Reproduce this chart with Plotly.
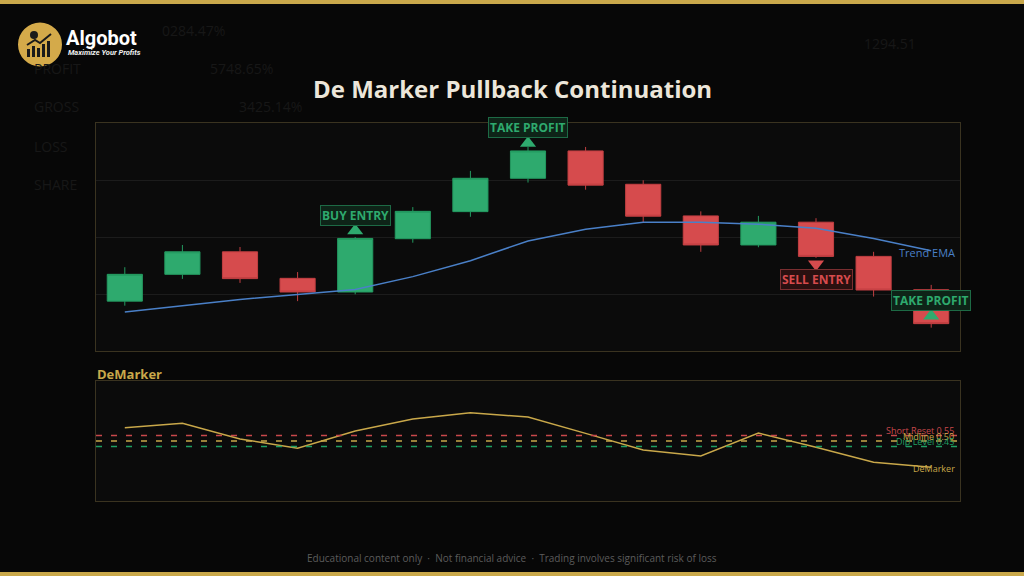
import plotly.graph_objects as go

# ---------------- data ----------------
bars = list(range(15))
open_ = [97.75, 98.69, 99.48, 98.55, 98.07, 99.94, 100.89, 102.06, 103.02, 101.85, 100.74, 99.72, 100.52, 99.32, 98.15]
high = [98.94, 99.72, 99.65, 98.77, 100.00, 101.05, 102.32, 103.16, 103.16, 101.99, 100.90, 100.74, 100.66, 99.48, 98.32]
low = [97.59, 98.53, 98.39, 97.75, 97.99, 99.80, 100.71, 101.91, 101.66, 100.52, 99.48, 99.64, 99.27, 97.91, 96.82]
close = [98.69, 99.48, 98.54, 98.07, 99.95, 100.90, 102.06, 103.02, 101.82, 100.73, 99.72, 100.52, 99.32, 98.14, 96.96]
trend_ema = [97.37, 97.60, 97.81, 97.98, 98.16, 98.61, 99.17, 99.86, 100.27, 100.52, 100.52, 100.45, 100.31, 99.95, 99.52]
demarker = [0.622, 0.662, 0.518, 0.433, 0.592, 0.702, 0.760, 0.720, 0.570, 0.417, 0.362, 0.573, 0.442, 0.305, 0.259]

signal_idx = [4, 7, 12, 14]
signal_text = ["BUY ENTRY", "TAKE PROFIT", "SELL ENTRY", "TAKE PROFIT"]
signal_dir = ["up", "up", "down", "up"]

level_values = [0.55, 0.50, 0.45]
level_names = ["Short Reset 0.55", "Midline 0.50", "Dip Level 0.45"]

# ---------------- styles ----------------
GREEN = "#2eaa6e"
RED = "#d64b4d"
GOLD = "#c9a84a"
BLUE = "#4a80c8"
level_colors = ["#c8484b", GOLD, "#1f9e63"]
FONT = "Open Sans"
W, H = 1024, 576


def px(x):
    return x / W


def py(y):
    return 1 - y / H


fig = go.Figure()

fig.add_trace(go.Candlestick(
    x=bars, open=open_, high=high, low=low, close=close,
    increasing=dict(fillcolor=GREEN, line=dict(color="#239a60", width=1)),
    decreasing=dict(fillcolor=RED, line=dict(color="#c23f42", width=1)),
    whiskerwidth=0, xaxis="x", yaxis="y", showlegend=False, hoverinfo="skip",
))

fig.add_trace(go.Scatter(
    x=bars, y=trend_ema, mode="lines", line=dict(color=BLUE, width=1.5),
    xaxis="x", yaxis="y", showlegend=False, hoverinfo="skip",
))

# signal markers
sig_x = [bars[i] for i in signal_idx]
sig_y = [close[i] + (0.27 if d == "up" else -0.27) for i, d in zip(signal_idx, signal_dir)]
sig_sym = ["triangle-up" if d == "up" else "triangle-down" for d in signal_dir]
sig_col = [GREEN if t != "SELL ENTRY" else RED for t in signal_text]
fig.add_trace(go.Scatter(
    x=sig_x, y=sig_y, mode="markers",
    marker=dict(symbol=sig_sym, size=14, color=sig_col, line=dict(width=0)),
    xaxis="x", yaxis="y", showlegend=False, hoverinfo="skip",
))

fig.add_trace(go.Scatter(
    x=bars, y=demarker, mode="lines", line=dict(color=GOLD, width=1.5),
    xaxis="x2", yaxis="y2", showlegend=False, hoverinfo="skip",
))

annotations = []
for xv, yv, t, d, c in zip(sig_x, sig_y, signal_text, signal_dir, sig_col):
    is_sell = t == "SELL ENTRY"
    annotations.append(dict(
        x=xv, y=yv, xref="x", yref="y", text="<b>%s</b>" % t, showarrow=False,
        yshift=(-15.5 if d == "down" else 15.5),
        font=dict(family=FONT, size=12, color=c),
        bgcolor=("#2a1010" if is_sell else "#0e2418"),
        bordercolor=("#7a2e30" if is_sell else "#1d6a45"),
        borderwidth=1, borderpad=1,
    ))

annotations.append(dict(
    x=1, xref="x domain", xanchor="right", xshift=-3,
    y=trend_ema[-1], yref="y", yanchor="middle", yshift=-2,
    text="Trend EMA", showarrow=False, font=dict(family=FONT, size=11, color=BLUE),
))

shapes = []
for v, name, col in zip(level_values, level_names, level_colors):
    shapes.append(dict(type="line", xref="x2 domain", x0=0, x1=1, yref="y2", y0=v, y1=v,
                       line=dict(color=col, width=1.5, dash="6px,9px")))
    annotations.append(dict(
        x=1, xref="x2 domain", xanchor="right", xshift=-4,
        y=v, yref="y2", yanchor="middle", yshift=5,
        text=name, showarrow=False, font=dict(family=FONT, size=9, color=col),
    ))

annotations.append(dict(
    x=1, xref="x2 domain", xanchor="right", xshift=-3,
    y=demarker[-1], yref="y2", yanchor="middle", yshift=-1.5,
    text="DeMarker", showarrow=False, font=dict(family=FONT, size=9, color=GOLD),
))

# panel title
annotations.append(dict(
    x=px(95), y=py(374), xref="paper", yref="paper", xanchor="left", yanchor="middle",
    text="<b>DeMarker</b>", showarrow=False, font=dict(family=FONT, size=13, color=GOLD),
))

# main title
annotations.append(dict(
    x=0.5, y=py(88), xref="paper", yref="paper", xanchor="center", yanchor="middle",
    text="<b>De Marker Pullback Continuation</b>", showarrow=False,
    font=dict(family=FONT, size=24, color="#ece6da"),
))

# footer
annotations.append(dict(
    x=0.5, y=py(558), xref="paper", yref="paper", xanchor="center", yanchor="middle",
    text="Educational content only  ·  Not financial advice  ·  Trading involves significant risk of loss",
    showarrow=False, font=dict(family=FONT, size=10, color="#5c5c5c"),
))

# faint background texts
bg_texts = [("0284.47%", 160, 30), ("PROFIT", 32, 69), ("5748.65%", 208, 69),
            ("GROSS", 32, 107), ("3425.14%", 237, 107), ("LOSS", 32, 146), ("SHARE", 32, 184),
            ("1294.51", 862, 44)]
for t, xx, yy in bg_texts:
    annotations.append(dict(
        x=px(xx), y=py(yy), xref="paper", yref="paper", xanchor="left", yanchor="middle",
        text=t, showarrow=False, font=dict(family=FONT, size=14, color="#171717"),
    ))

# logo
annotations.append(dict(
    x=px(64), y=py(38), xref="paper", yref="paper", xanchor="left", yanchor="middle",
    text="<b>Algobot</b>", showarrow=False, font=dict(family="Roboto", size=20, color="#ffffff"),
))
annotations.append(dict(
    x=px(66), y=py(53), xref="paper", yref="paper", xanchor="left", yanchor="middle",
    text="<b><i>Maximize Your Profits</i></b>", showarrow=False,
    font=dict(family="Roboto", size=7.5, color="#f0f0f0"),
))

shapes += [
    dict(type="circle", xref="paper", yref="paper", x0=px(18), x1=px(62), y0=py(66.5), y1=py(22.5),
         fillcolor="#d4aa4a", line=dict(width=0), layer="above"),
    dict(type="rect", xref="paper", yref="paper", x0=px(27), x1=px(30), y0=py(57), y1=py(49),
         fillcolor="#1a1a1a", line=dict(width=0), layer="above"),
    dict(type="rect", xref="paper", yref="paper", x0=px(32), x1=px(35), y0=py(57), y1=py(46),
         fillcolor="#1a1a1a", line=dict(width=0), layer="above"),
    dict(type="rect", xref="paper", yref="paper", x0=px(37), x1=px(40), y0=py(57), y1=py(48),
         fillcolor="#1a1a1a", line=dict(width=0), layer="above"),
    dict(type="rect", xref="paper", yref="paper", x0=px(42), x1=px(45), y0=py(57), y1=py(44),
         fillcolor="#1a1a1a", line=dict(width=0), layer="above"),
    dict(type="rect", xref="paper", yref="paper", x0=px(47), x1=px(50), y0=py(57), y1=py(41),
         fillcolor="#1a1a1a", line=dict(width=0), layer="above"),
    dict(type="path", xref="paper", yref="paper",
         path="M %f,%f L %f,%f L %f,%f L %f,%f" % (px(27), py(45), px(35), py(40), px(40), py(43), px(51), py(34)),
         line=dict(color="#1a1a1a", width=2), layer="above"),
    dict(type="circle", xref="paper", yref="paper", x0=px(30), x1=px(38), y0=py(39), y1=py(31),
         fillcolor="#1a1a1a", line=dict(width=0), layer="above"),
    dict(type="rect", xref="paper", yref="paper", x0=0, x1=1, y0=py(4), y1=1,
         fillcolor="#c9a84a", line=dict(width=0), layer="above"),
    dict(type="rect", xref="paper", yref="paper", x0=0, x1=1, y0=0, y1=py(572),
         fillcolor="#c9a84a", line=dict(width=0), layer="above"),
]

axis_common = dict(showticklabels=False, zeroline=False, showline=True, mirror=True,
                   linecolor="#3a3320", linewidth=1, ticks="")

fig.update_layout(
    width=W, height=H, margin=dict(l=0, r=0, t=0, b=0),
    paper_bgcolor="#070707", plot_bgcolor="#0b0b0b",
    font=dict(family=FONT),
    showlegend=False,
    boxgap=0.39, boxgroupgap=0,
    xaxis=dict(domain=[px(96), px(960)], range=[-0.5, 14.5], anchor="y", showgrid=False,
               rangeslider=dict(visible=False), **axis_common),
    yaxis=dict(domain=[py(351), py(123)], range=[96, 104], dtick=2, tick0=96, showgrid=True,
               gridcolor="#1c1c1c", gridwidth=1, anchor="x", **axis_common),
    xaxis2=dict(domain=[px(96), px(960)], range=[-0.5, 14.5], anchor="y2", showgrid=False,
                **axis_common),
    yaxis2=dict(domain=[py(501), py(381)], range=[-0.05, 1.05], showgrid=False, anchor="x2",
                **axis_common),
    annotations=annotations,
    shapes=shapes,
)

fig.write_html(
    "out.html",
    config={"displayModeBar": False},
    post_script="document.body.style.margin='0';document.body.style.overflow='hidden';",
)
